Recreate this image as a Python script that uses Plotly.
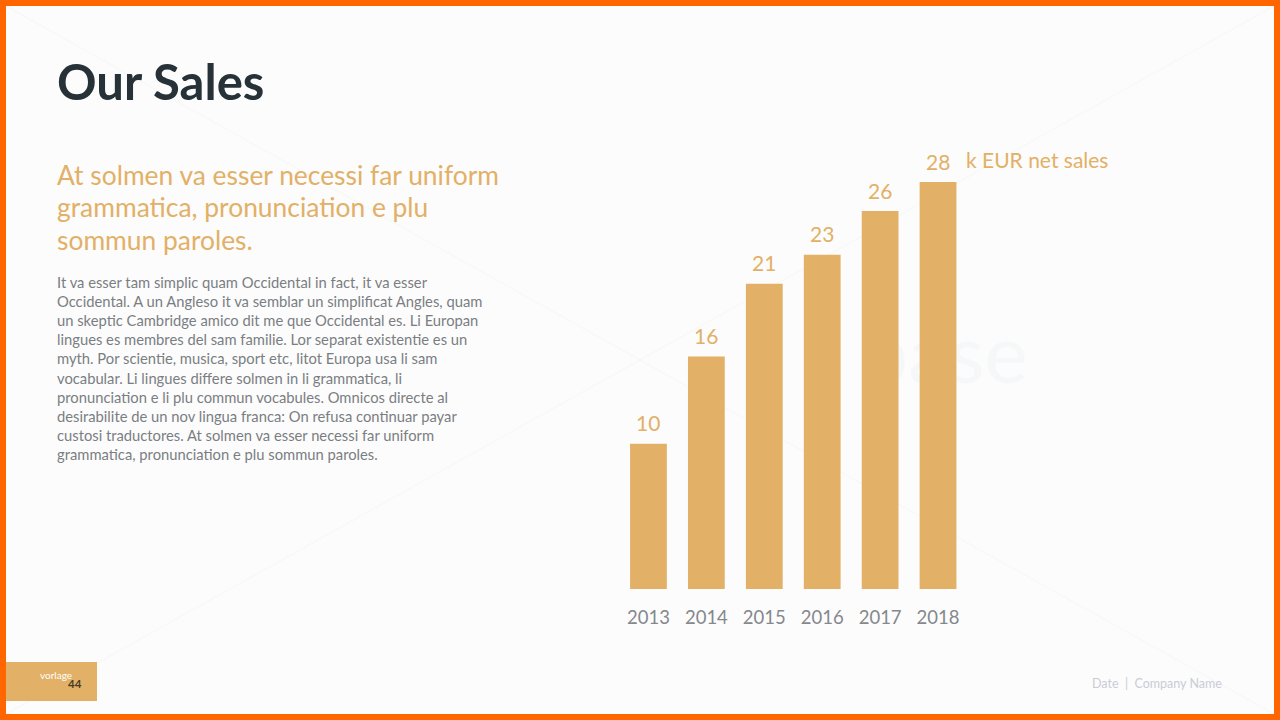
import plotly.graph_objects as go

years = ["2013", "2014", "2015", "2016", "2017", "2018"]
sales = [10, 16, 21, 23, 26, 28]
title = "Our Sales"
lead = ["At solmen va esser necessi far uniform", "grammatica, pronunciation e plu", "sommun paroles."]
body = [
    "It va esser tam simplic quam Occidental in fact, it va esser",
    "Occidental. A un Angleso it va semblar un simplificat Angles, quam",
    "un skeptic Cambridge amico dit me que Occidental es. Li Europan",
    "lingues es membres del sam familie. Lor separat existentie es un",
    "myth. Por scientie, musica, sport etc, litot Europa usa li sam",
    "vocabular. Li lingues differe solmen in li grammatica, li",
    "pronunciation e li plu commun vocabules. Omnicos directe al",
    "desirabilite de un nov lingua franca: On refusa continuar payar",
    "custosi traductores. At solmen va esser necessi far uniform",
    "grammatica, pronunciation e plu sommun paroles.",
]
watermark = "base"
W, H = 1280, 720
GOLD = "#E2B066"
FONT = "Lato"

fig = go.Figure()
# watermark sits in the first subplot so the bars paint over it
fig.add_trace(go.Scatter(x=[945], y=[H - 362], mode="text", text=[watermark], hoverinfo="skip",
                         textfont=dict(family=FONT, size=82, color="#F6F7F8"),
                         xaxis="x", yaxis="y"))
fig.add_trace(go.Bar(x=years, y=sales, marker=dict(color=GOLD, line_width=0), width=0.635,
                     cliponaxis=False, xaxis="x2", yaxis="y2"))

def note(text, x, y, size, color, anchor="left", family=FONT, **kw):
    fig.add_annotation(text=text, x=x / W, y=1 - y / H, xref="paper", yref="paper",
                       xanchor=anchor, yanchor="middle", showarrow=False,
                       font=dict(family=family, size=size, color=color), **kw)

for i, v in enumerate(sales):
    fig.add_annotation(text=str(v), x=i, y=v, xref="x2", yref="y2", yshift=21, showarrow=False,
                       font=dict(family=FONT, size=21, color=GOLD))

# faint background diagonals
for x0, y0, x1, y1 in [(6, 6, 640, 360), (640, 360, 1274, 714), (6, 714, 640, 360), (640, 360, 1274, 6)]:
    fig.add_shape(type="line", xref="paper", yref="paper", x0=x0 / W, y0=1 - y0 / H, x1=x1 / W, y1=1 - y1 / H,
                  line=dict(color="#F8F8F8", width=1.5), layer="below")

note("<b>" + title + "</b>", 55, 81, 49, "#263238")
for i, t in enumerate(lead):
    note(t, 55, 175 + i * 32.5, 26.4, GOLD)
for i, t in enumerate(body):
    note(t, 55, 282 + i * 19.1, 14.75, "#7A7E82")
note("k EUR net sales", 964, 159, 21, GOLD)
note("vorlage", 38, 675, 10, "#FFFFFF")
note("<b>44</b>", 66, 683, 11.5, "#4A3C28")
note("Date  |  Company Name", 1224, 683, 12.5, "#C9CCD6", anchor="right")

# corner tab and orange frame
fig.add_shape(type="rect", xref="paper", yref="paper", x0=6 / W, x1=97 / W, y0=1 - 701 / H, y1=1 - 662 / H,
              fillcolor=GOLD, line_width=0, layer="below")
fig.add_shape(type="rect", xref="paper", yref="paper", x0=3 / W, x1=1277 / W, y0=3 / H, y1=1 - 3 / H,
              fillcolor="rgba(0,0,0,0)", line=dict(color="#FF6600", width=6))

fig.update_layout(
    width=W, height=H, margin=dict(l=0, r=0, t=0, b=0, autoexpand=False), autosize=False,
    paper_bgcolor="#FCFCFC", plot_bgcolor="rgba(0,0,0,0)", showlegend=False,
    xaxis=dict(domain=[0, 1], range=[0, W], visible=False, automargin=False),
    yaxis=dict(domain=[0, 1], range=[0, H], visible=False, automargin=False),
    xaxis2=dict(domain=[619.5 / W, 967 / W], type="category", range=[-0.5, 5.5], automargin=False,
                anchor="y2", showgrid=False, showline=False, ticks="",
                tickfont=dict(family=FONT, size=18.5, color="#85888C"), ticklabelstandoff=15),
    yaxis2=dict(domain=[1 - 589 / H, 1 - 182 / H], range=[0, 28], anchor="x2", visible=False, automargin=False),
)
fig.write_html("out.html", config={"displayModeBar": False},
               post_script="document.body.style.margin='0';document.body.style.overflow='hidden';")
